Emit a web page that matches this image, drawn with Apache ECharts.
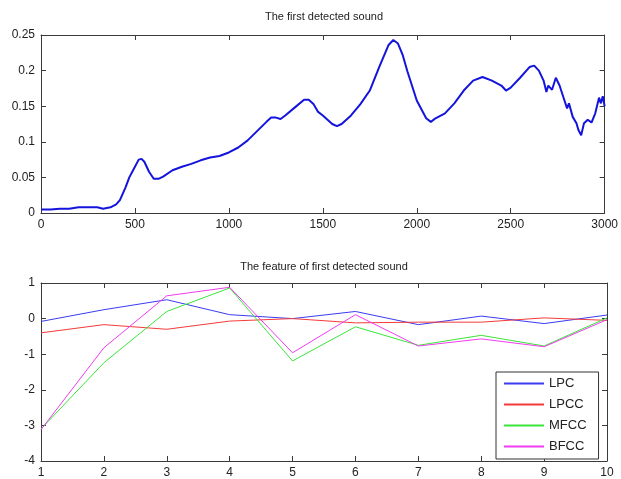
<!DOCTYPE html>
<html>
<head>
<meta charset="utf-8">
<script src="https://cdn.jsdelivr.net/npm/echarts@6/dist/echarts.min.js"></script>
<style>html,body{margin:0;padding:0;background:#fff}#c{width:621px;height:479px}</style>
</head>
<body>
<div id="c"></div>
<script>
// Top plot: sample index vs amplitude
var soundX = [0,50,100,150,200,250,300,330,370,400,420,450,470,500,520,535,550,575,600,625,650,700,750,800,850,900,950,1000,1050,1100,1150,1200,1225,1250,1275,1300,1350,1400,1425,1450,1475,1500,1550,1575,1600,1650,1700,1750,1800,1850,1875,1900,1925,1950,2000,2050,2075,2100,2150,2200,2250,2300,2350,2400,2450,2475,2500,2550,2600,2625,2650,2675,2690,2700,2720,2740,2760,2780,2800,2810,2830,2850,2860,2875,2890,2910,2930,2950,2970,2980,2990,3000];
var soundY = [0.005,0.005,0.006,0.006,0.008,0.008,0.008,0.006,0.008,0.012,0.018,0.036,0.05,0.065,0.075,0.076,0.072,0.058,0.048,0.048,0.051,0.06,0.065,0.069,0.074,0.078,0.08,0.085,0.092,0.102,0.115,0.128,0.134,0.134,0.132,0.137,0.148,0.159,0.159,0.153,0.142,0.137,0.125,0.122,0.125,0.137,0.153,0.172,0.205,0.236,0.243,0.238,0.222,0.199,0.158,0.133,0.128,0.133,0.14,0.154,0.172,0.186,0.191,0.186,0.179,0.172,0.176,0.19,0.205,0.207,0.2,0.186,0.17,0.179,0.173,0.19,0.179,0.163,0.147,0.154,0.135,0.126,0.117,0.109,0.126,0.131,0.127,0.14,0.162,0.154,0.164,0.15];

// Bottom plot: feature index and four feature series
var featureIndex = [1,2,3,4,5,6,7,8,9,10];
var lpc  = [-0.08,0.25,0.53,0.11,0.0,0.2,-0.17,0.07,-0.14,0.1];
var lpcc = [-0.4,-0.17,-0.3,-0.07,0.0,-0.12,-0.1,-0.1,0.02,-0.05];
var mfcc = [-3.1,-1.24,0.2,0.86,-1.19,-0.23,-0.75,-0.47,-0.77,0.02];
var bfcc = [-3.12,-0.82,0.64,0.88,-0.96,0.11,-0.77,-0.57,-0.79,-0.03];
var seriesNames = ['LPC','LPCC','MFCC','BFCC'];

function pairs(xs, ys){ return xs.map(function(x,i){ return [x, ys[i]]; }); }

var FONT = '"Liberation Sans", Arial, sans-serif';
var axisCol = '#3a3a3a';
function fmt(v){ return String(+v.toFixed(6)); }
function baseAxis(extra){
  var a = {
    axisLine:{show:true,onZero:false,lineStyle:{color:axisCol,width:1}},
    axisTick:{show:true,inside:true,length:5,lineStyle:{color:axisCol}},
    splitLine:{show:false},
    axisLabel:{color:'#222',fontSize:12,fontFamily:FONT,margin:6,formatter:fmt}
  };
  for (var k in extra) a[k]=extra[k];
  return a;
}
function mirror(a){ a.axisLabel = {show:false}; return a; }

var titleStyle = {fontSize:11,fontWeight:'normal',color:'#222',fontFamily:FONT};
var chart = echarts.init(document.getElementById('c'), null, {renderer:'canvas'});
chart.setOption({
  animation:false,
  backgroundColor:'#fff',
  title:[
    {text:'The first detected sound',left:324,textAlign:'center',top:11,padding:0,textStyle:titleStyle},
    {text:'The feature of first detected sound',left:324,textAlign:'center',top:261,padding:0,textStyle:titleStyle}
  ],
  grid:[
    {left:41,right:14,top:35,height:178},
    {left:41,right:14,top:283,height:179}
  ],
  xAxis:[
    baseAxis({type:'value',gridIndex:0,position:'bottom',min:0,max:3000,interval:500}),
    mirror(baseAxis({type:'value',gridIndex:0,position:'top',min:0,max:3000,interval:500})),
    baseAxis({type:'value',gridIndex:1,position:'bottom',min:1,max:10,interval:1}),
    mirror(baseAxis({type:'value',gridIndex:1,position:'top',min:1,max:10,interval:1}))
  ],
  yAxis:[
    baseAxis({type:'value',gridIndex:0,position:'left',min:0,max:0.25,interval:0.05}),
    mirror(baseAxis({type:'value',gridIndex:0,position:'right',min:0,max:0.25,interval:0.05})),
    baseAxis({type:'value',gridIndex:1,position:'left',min:-4,max:1,interval:1}),
    mirror(baseAxis({type:'value',gridIndex:1,position:'right',min:-4,max:1,interval:1}))
  ],
  legend:{
    orient:'vertical',left:496,top:372,
    data:seriesNames,
    icon:'rect',itemWidth:40,itemHeight:2,itemGap:8,
    padding:[5,12,6,8],
    borderColor:'#333',borderWidth:1,backgroundColor:'#fff',
    textStyle:{fontSize:13,color:'#222',fontFamily:FONT}
  },
  series:[
    {type:'line',xAxisIndex:0,yAxisIndex:0,data:pairs(soundX,soundY),showSymbol:false,symbol:'none',
     lineStyle:{color:'#1414dc',width:2},itemStyle:{color:'#1414dc'}},
    {name:'LPC',type:'line',xAxisIndex:2,yAxisIndex:2,data:pairs(featureIndex,lpc),symbol:'none',
     lineStyle:{color:'#3b3bf0',width:1},itemStyle:{color:'#3b3bf0'}},
    {name:'LPCC',type:'line',xAxisIndex:2,yAxisIndex:2,data:pairs(featureIndex,lpcc),symbol:'none',
     lineStyle:{color:'#f53a3a',width:1},itemStyle:{color:'#f53a3a'}},
    {name:'MFCC',type:'line',xAxisIndex:2,yAxisIndex:2,data:pairs(featureIndex,mfcc),symbol:'none',
     lineStyle:{color:'#3ae63a',width:1},itemStyle:{color:'#3ae63a'}},
    {name:'BFCC',type:'line',xAxisIndex:2,yAxisIndex:2,data:pairs(featureIndex,bfcc),symbol:'none',
     lineStyle:{color:'#f03cf0',width:1},itemStyle:{color:'#f03cf0'}}
  ]
});
</script>
</body>
</html>
